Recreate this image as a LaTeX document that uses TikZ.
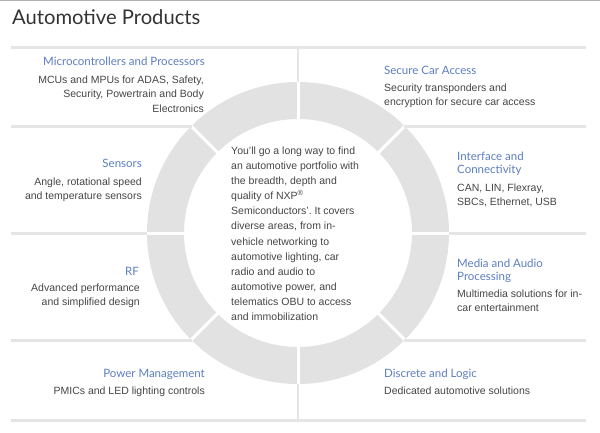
\documentclass[tikz,border=0pt]{standalone}
\usepackage{fontspec}
\usepackage{tikz}
\setmainfont{Liberation Sans}
\newfontfamily\latofont{Lato}
\definecolor{ringgray}{rgb}{0.886,0.886,0.886}
\definecolor{rulegray}{rgb}{0.9,0.9,0.9}
\definecolor{headblue}{rgb}{0.36,0.49,0.76}
\definecolor{textgray}{rgb}{0.27,0.27,0.27}
\definecolor{titlegray}{rgb}{0.2,0.2,0.2}
\frenchspacing

\begin{document}
\begin{tikzpicture}[x=1pt,y=-1pt,
  rule/.style={line width=3pt, color=rulegray},
  head/.style={inner sep=0pt, text=headblue, font=\latofont\fontsize{11.5}{13}\selectfont},
  body/.style={inner sep=0pt, text=textgray, font=\fontsize{10.5}{14.7}\selectfont}]
\useasboundingbox (0,0) rectangle (600,432);
\draw [line width=1pt, color=gray!60] (0,0.5) -- (600,0.5);
\node[anchor=base west, inner sep=0pt, text=titlegray, font=\latofont\fontsize{20.2}{23}\selectfont] (title) at (12,24) {Automotive Products};
\fill [ringgray, even odd rule] (298,233) circle (151pt) (298,233) circle (114pt);
\foreach \a in {0,45,...,315}
  \draw [white, line width=3pt] (298,233) ++(\a:108) -- ++(\a:48);
\draw [rule] (11,47) -- (586,47);
\draw [rule] (11,126) -- (192,126);
\draw [rule] (404,126) -- (586,126);
\draw [rule] (11,233) -- (147,233);
\draw [rule] (449,233) -- (586,233);
\draw [rule] (11,340) -- (192,340);
\draw [rule] (404,340) -- (586,340);
\draw [rule] (11,420) -- (586,420);
\draw [rule, line width=2pt] (298,47) -- (298,82);
\draw [rule, line width=2pt] (298,384) -- (298,420);
\node[head, anchor=base east] (mcu) at (205,65) {Microcontrollers and Processors};
\node[body, align=right, anchor=north east] (mcutxt) at (204,75.3) {MCUs and MPUs for ADAS, Safety,\\Security, Powertrain and Body\\Electronics};
\node[head, anchor=base east] (sens) at (142,167) {Sensors};
\node[body, align=right, anchor=north east] (senstxt) at (142,177.3) {Angle, rotational speed\\and temperature sensors};
\node[head, anchor=base east] (rf) at (139,275) {RF};
\node[body, align=right, anchor=north east] (rftxt) at (140,283.3) {Advanced performance\\and simplified design};
\node[head, anchor=base east] (power) at (205,377) {Power Management};
\node[body, align=right, anchor=north east] (powertxt) at (205,386.3) {PMICs and LED lighting controls};
\node[head, anchor=base west] (access) at (384,74) {Secure Car Access};
\node[body, align=left, anchor=north west] (accesstxt) at (384,83.3) {Security transponders and\\encryption for secure car access};
\node[head, align=left, anchor=north west] (iface) at (457,151.5) {Interface and\\Connectivity};
\node[body, align=left, anchor=north west] (ifacetxt) at (457,183.3) {CAN, LIN, Flexray,\\SBCs, Ethernet, USB};
\node[head, align=left, anchor=north west] (media) at (457,258.5) {Media and Audio\\Processing};
\node[body, align=left, anchor=north west] (mediatxt) at (457,289.3) {Multimedia solutions for in-\\car entertainment};
\node[head, anchor=base west] (logic) at (384,377) {Discrete and Logic};
\node[body, align=left, anchor=north west] (logictxt) at (384,386.3) {Dedicated automotive solutions};
\node[body, align=left, anchor=north west, font=\fontsize{10.5}{15.15}\selectfont] (intro) at (231,146.3) {You'll go a long way to find\\an automotive portfolio with\\the breadth, depth and\\quality of NXP\textsuperscript{®}\\Semiconductors'. It covers\\diverse areas, from in-\\vehicle networking to\\automotive lighting, car\\radio and audio to\\automotive power, and\\telematics OBU to access\\and immobilization};
\end{tikzpicture}
\end{document}
